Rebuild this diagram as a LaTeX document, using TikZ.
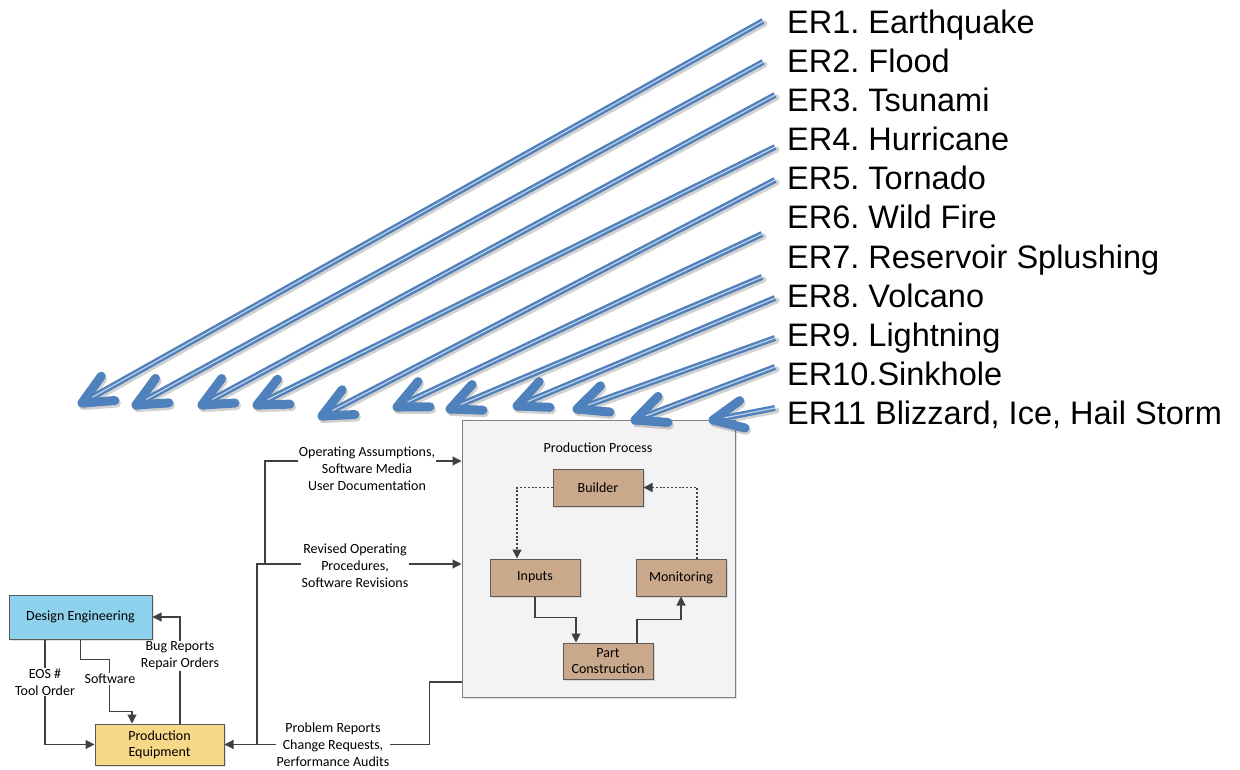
\documentclass[tikz,border=0pt]{standalone}
\usepackage{fontspec}
\setmainfont{Liberation Sans}
\newfontfamily\smallfnt{Carlito}
\usetikzlibrary{arrows.meta,calc,shadows}
\definecolor{erblue}{RGB}{79,129,189}
\definecolor{erstripe}{RGB}{196,210,228}
\definecolor{lineclr}{RGB}{64,64,64}
\definecolor{boxline}{RGB}{90,90,90}
\definecolor{tanfill}{RGB}{201,168,140}
\definecolor{defill}{RGB}{142,209,236}
\definecolor{pefill}{RGB}{246,216,136}
\definecolor{procfill}{RGB}{243,243,243}
\frenchspacing

\begin{document}
\begin{tikzpicture}[x=1pt,y=-1pt,
  ertext/.style={anchor=base west, inner sep=0pt, font=\fontsize{32.5}{38}\selectfont},
  shaft/.style={draw=erblue, line width=2.4pt, double=erstripe, double distance=1.2pt},
  head/.style={draw=erblue, line width=9pt, line cap=round, line join=round},
  shade/.style={draw=black, opacity=0.18, line cap=round, line join=round,
    transform canvas={shift={(1.5pt,-2.5pt)}}},
  smallfont/.style={font=\smallfnt\fontsize{14}{17}\selectfont},
  boxbase/.style={draw=boxline, line width=1pt, inner sep=1pt, align=center, smallfont,
    drop shadow={shadow xshift=1.5pt, shadow yshift=-1.5pt, opacity=0.25}},
  tbox/.style={boxbase, fill=tanfill, minimum width=90pt, minimum height=37pt},
  lbl/.style={fill=white, inner sep=1pt, align=center, smallfont},
  conn/.style={draw=lineclr, line width=1.1pt, -{Triangle[length=9pt,width=9pt]}},
  dconn/.style={conn, line width=1.3pt, dash pattern=on 2pt off 1.8pt},
]
\useasboundingbox (0,0) rectangle (1240,770);

% ---- production process block ----
\node[boxbase, fill=procfill, draw=gray, minimum width=273pt, minimum height=277pt] (proc) at (598.5,558.5) {};
\node[lbl, fill=none] (pptitle) at (598,448) {Production Process};
\node[tbox] (builder) at (598,487.5) {Builder};
\node[tbox] (inputs) at (535,577.5) {Inputs};
\node[tbox] (monit) at (681,577.5) {Monitoring};
\node[tbox, minimum height=36pt] (partc) at (608,661) {Part\\[-1pt]Construction};

\draw[dconn] (builder.west) -| ($(inputs.north)+(-18,0)$);
\draw[dconn] ($(monit.north)+(16,0)$) |- (builder.east);
\draw[conn] (inputs.south) -- ++(0,21) -| ($(partc.north)+(-32,0)$);
\draw[conn] ($(partc.north)+(29,0)$) -- ++(0,-23) -| (monit.south);

% ---- engineering and equipment ----
\node[boxbase, fill=defill, minimum width=143pt, minimum height=44pt] (de) at (80.5,617) {Design Engineering};
\node[boxbase, fill=pefill, minimum width=129pt, minimum height=41pt] (pe) at (159.5,744.5) {Production\\[-1pt]Equipment};

\draw[conn] ($(de.south)+(-35.5,0)$) |- (pe.west);
\node[lbl] (eos) at (45,682) {EOS \#\\Tool Order};

\draw[conn] (de.south) -- ++(0,20) -- ++(29,0) |- ($(pe.north)+(-27.5,-12)$) -- ($(pe.north)+(-27.5,0)$);
\node[lbl] (sw) at (110,679) {Software};

\draw[conn] ($(pe.north)+(20.5,0)$) |- (de.east);
\node[lbl] (bug) at (180,656) {Bug Reports\\Repair Orders};

% ---- feedback and document flows ----
\coordinate (jn) at (257,744.5);
\coordinate (jn2) at (265,564);
\draw[conn] ($(proc.west)+(0,123.5)$) -- ++(-32,0) |- (pe.east);
\node[lbl] (prob) at (333,745) {Problem Reports\\Change Requests,\\Performance Audits};
\draw[conn] (jn) |- ($(proc.west)+(0,5.5)$);
\node[lbl] (rev) at (355,566) {Revised Operating\\Procedures,\\Software Revisions};
\draw[conn] (jn2) |- ($(proc.west)+(0,-97.5)$);
\node[lbl] (opa) at (367,469) {Operating Assumptions,\\Software Media\\User Documentation};

% ---- external risks ----
\foreach \t [count=\i] in {ER1. Earthquake, ER2. Flood, ER3. Tsunami, ER4. Hurricane,
    ER5. Tornado, ER6. Wild Fire, ER7. Reservoir Splushing, ER8. Volcano,
    ER9. Lightning, ER10.Sinkhole, {ER11 Blizzard, Ice, Hail Storm}}
  \node[ertext] (er\i) at (787,{33.5+39.1*(\i-1)}) {\t};

\foreach \sx/\sy/\tx/\ty [count=\i] in {763/21/82/403, 763/62/136/405, 775/95/202/405,
    775/147/257/405, 775/180/322/416, 762/234/397/407, 762/277/450/409,
    775/298/517/406, 775/338/577/409, 775/367/635/420, 775/408/713/420} {
  \coordinate (s\i) at (\sx,\sy);
  \coordinate (t\i) at (\tx,\ty);
}
\foreach \i in {1,...,11} {
  \draw[shade, line width=6pt] (s\i) -- (t\i);
  \draw[shade, line width=9pt] let \p1=($(s\i)-(t\i)$), \n1={atan2(\y1,\x1)} in
    ($(t\i)+(\n1+25:33pt)$) -- (t\i) -- ($(t\i)+(\n1-25:33pt)$);
}
\foreach \i in {1,...,11} {
  \draw[shaft] (s\i) -- (t\i);
  \draw[head] let \p1=($(s\i)-(t\i)$), \n1={atan2(\y1,\x1)} in
    ($(t\i)+(\n1+25:33pt)$) -- (t\i) -- ($(t\i)+(\n1-25:33pt)$);
}
\end{tikzpicture}
\end{document}
